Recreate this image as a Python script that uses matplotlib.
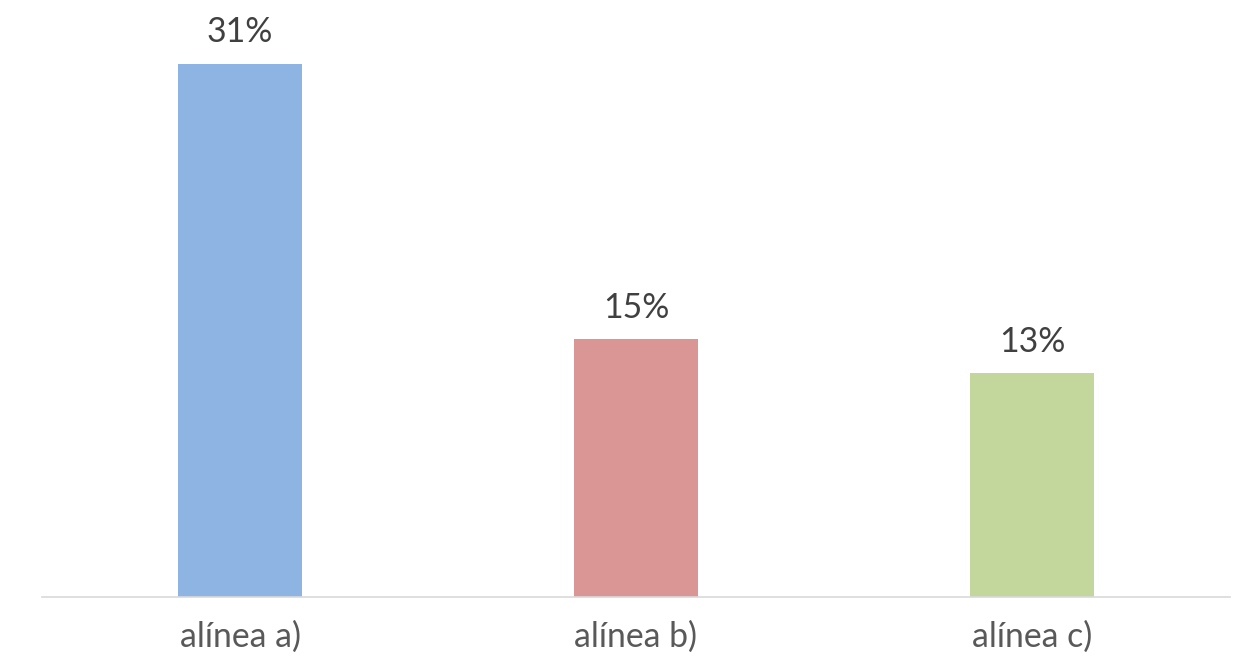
import numpy as np
import matplotlib.pyplot as plt

plt.rcParams['font.family'] = ['Lato', 'DejaVu Sans']

categories = ['alínea a)', 'alínea b)', 'alínea c)']
values = [0.31, 0.15, 0.13]
labels = ['31%', '15%', '13%']
colors = ['#8EB4E3', '#D99694', '#C3D69B']

fig = plt.figure(figsize=(12.37, 6.62), dpi=100)
ax = fig.add_axes([42/1237, 1 - 597/662, (1230 - 42)/1237, 597/662])

x = np.arange(len(categories))
bars = ax.bar(x, values, width=0.311, color=colors)

for b, lab in zip(bars, labels):
    ax.annotate(lab, (b.get_x() + b.get_width()/2, b.get_height()),
                xytext=(0, 11), textcoords='offset points',
                ha='center', va='bottom', fontsize=24.3, color='#404040')

ax.set_xlim(-0.5, 2.5)
ax.set_ylim(0, 0.347)
ax.set_xticks(x)
ax.set_xticklabels(categories, fontsize=24.3, color='#595959')
ax.tick_params(axis='x', length=0, pad=17)
ax.set_yticks([])
for s in ['top', 'right', 'left']:
    ax.spines[s].set_visible(False)
ax.spines['bottom'].set_color('#D9D9D9')
ax.spines['bottom'].set_linewidth(1.2)

plt.savefig('out.png', dpi=100)
